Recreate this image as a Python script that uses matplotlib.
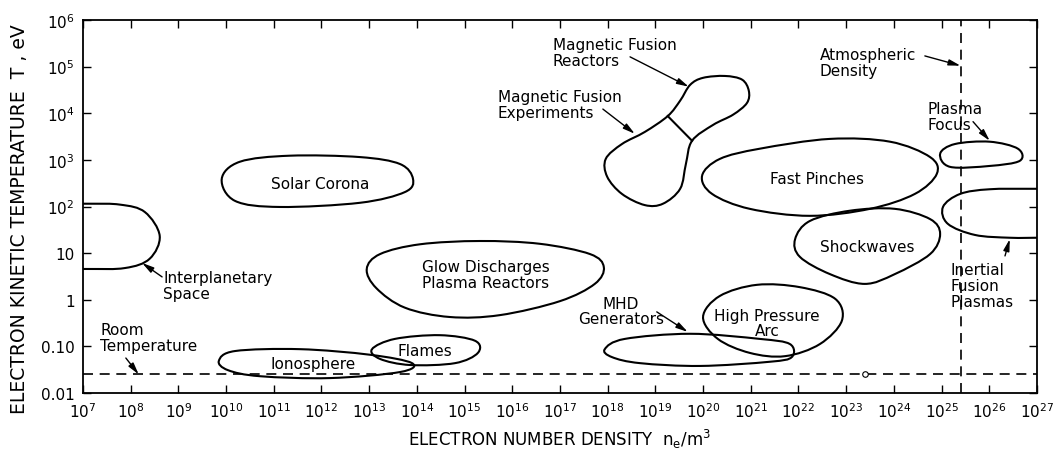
import numpy as np
import matplotlib.pyplot as plt
from matplotlib.path import Path
from matplotlib.patches import PathPatch

plt.rcParams['font.family'] = ['DejaVu Sans']
plt.rcParams['mathtext.default'] = 'regular'

# region outlines, points as (log10 n_e [m^-3], log10 T [eV])
interplanetary = [(5.0, 2.06), (7.0, 2.06), (7.78, 2.04), (8.30, 1.88), (8.61, 1.37),
                  (8.40, 0.88), (7.88, 0.68), (7.0, 0.66), (5.0, 0.66)]
solar_corona = [(9.91, 2.59), (10.29, 2.96), (11.34, 3.09), (12.81, 3.06), (13.65, 2.91),
                (13.92, 2.59), (13.75, 2.31), (12.81, 2.08), (11.13, 1.99), (10.19, 2.12)]
glow_discharge = [(12.95, 0.66), (13.23, 0.98), (14.07, 1.19), (15.32, 1.26), (16.58, 1.20),
                  (17.63, 0.98), (17.92, 0.70), (17.73, 0.34), (17.0, -0.03), (15.74, -0.33),
                  (14.69, -0.37), (13.75, -0.17), (13.15, 0.25)]
ionosphere = [(9.85, -1.31), (10.19, -1.10), (11.55, -1.06), (13.02, -1.18), (13.90, -1.36),
              (13.65, -1.55), (12.18, -1.68), (10.71, -1.64), (10.04, -1.51)]
flames = [(13.06, -1.06), (13.54, -0.84), (14.48, -0.76), (15.22, -0.88), (15.28, -1.14),
          (14.80, -1.36), (13.86, -1.40), (13.23, -1.27)]
magnetic_fusion = [(19.26, 3.94), (19.52, 4.27), (19.73, 4.61), (20.0, 4.76), (20.46, 4.80),
                   (20.82, 4.72), (20.96, 4.48), (20.92, 4.22), (20.63, 3.97), (20.21, 3.75),
                   (19.77, 3.41), (19.64, 2.91), (19.52, 2.38), (19.16, 2.06), (18.78, 2.03),
                   (18.30, 2.27), (17.99, 2.64), (17.96, 3.02), (18.30, 3.34), (18.78, 3.60)]
fusion_divider = [(19.26, 3.94), (19.77, 3.41)]
fast_pinches = [(19.98, 2.66), (20.35, 3.02), (21.19, 3.24), (22.66, 3.45), (23.92, 3.39),
                (24.76, 3.06), (24.90, 2.70), (24.44, 2.27), (23.50, 1.95), (22.24, 1.80),
                (20.98, 1.95), (20.19, 2.27)]
shockwaves = [(21.93, 1.30), (22.24, 1.69), (23.08, 1.91), (24.02, 1.95), (24.76, 1.73),
              (24.97, 1.41), (24.76, 0.98), (24.02, 0.55), (23.39, 0.34), (22.66, 0.55),
              (22.03, 0.92)]
plasma_focus = [(24.97, 3.13), (25.28, 3.34), (26.01, 3.39), (26.60, 3.24), (26.64, 2.98),
                (26.01, 2.87), (25.18, 2.85)]
inertial_fusion = [(29.0, 2.38), (27.0, 2.38), (26.01, 2.37), (25.39, 2.27), (25.03, 1.99),
                   (25.13, 1.63), (25.70, 1.39), (26.43, 1.33), (27.0, 1.33), (29.0, 1.33)]
hp_arc = [(20.0, -0.37), (20.31, -0.84), (20.98, -1.14), (21.72, -1.21), (22.45, -0.95),
          (22.91, -0.45), (22.77, 0.02), (22.03, 0.27), (21.13, 0.32), (20.35, 0.08)]
mhd = [(17.94, -1.06), (18.36, -0.84), (19.73, -0.73), (21.19, -0.84), (21.82, -0.95),
       (21.86, -1.23), (21.40, -1.33), (19.94, -1.42), (18.68, -1.36), (18.09, -1.23)]

room_temp = 0.025          # eV
atm_density = 2.5e25       # m^-3
marker_pt = (2.5e23, 0.025)

xticks = [10.0**k for k in range(7, 28)]
xticklabels = ['$10^{%d}$' % k for k in range(7, 28)]
yticks = [1e-2, 1e-1, 1, 10, 1e2, 1e3, 1e4, 1e5, 1e6]
yticklabels = ['0.01', '0.10', '1', '10', '$10^{2}$', '$10^{3}$', '$10^{4}$', '$10^{5}$', '$10^{6}$']


def smooth_path(pts):
    # closed Catmull-Rom curve -> cubic Bezier segments in log space
    p = np.array(pts, dtype=float)
    n = len(p)
    verts = [p[0]]
    codes = [Path.MOVETO]
    for i in range(n):
        p0, p1, p2, p3 = p[i - 1], p[i], p[(i + 1) % n], p[(i + 2) % n]
        verts += [p1 + (p2 - p0) / 6, p2 - (p3 - p1) / 6, p2]
        codes += [Path.CURVE4] * 3
    return Path(10.0 ** np.array(verts), codes)


fig = plt.figure(figsize=(10.63, 4.6), dpi=100)
ax = fig.add_axes([0.078, 0.1435, 0.8975, 0.8108])
ax.set_xscale('log')
ax.set_yscale('log')
ax.set_xlim(1e7, 1e27)
ax.set_ylim(1e-2, 1e6)

for shape in [interplanetary, solar_corona, glow_discharge, ionosphere, flames, magnetic_fusion,
              fast_pinches, shockwaves, plasma_focus, inertial_fusion, hp_arc, mhd]:
    ax.add_patch(PathPatch(smooth_path(shape), fill=False, lw=1.5, ec='black'))
d = 10.0 ** np.array(fusion_divider)
ax.plot(d[:, 0], d[:, 1], color='black', lw=1.5)

ax.axhline(room_temp, color='black', lw=1.2, ls=(0, (6, 4)))
ax.axvline(atm_density, color='black', lw=1.2, ls=(0, (6, 4)))
ax.plot(*marker_pt, 'o', ms=4, mfc='white', mec='black', mew=0.8)

ax.set_xticks(xticks)
ax.set_xticklabels(xticklabels)
ax.set_yticks(yticks)
ax.set_yticklabels(yticklabels)
ax.minorticks_off()
ax.tick_params(which='both', direction='in', length=6, width=1, top=True, right=True,
               labelsize=11, pad=6)
for s in ax.spines.values():
    s.set_linewidth(1.3)

ax.set_xlabel('ELECTRON NUMBER DENSITY  $n_e/m^3$', fontsize=12, labelpad=5)
ax.set_ylabel('ELECTRON KINETIC TEMPERATURE  T , eV', fontsize=13.5)
ax.yaxis.set_label_coords(-0.057, 0.47)

# region labels
fs = 11
ax.text(10**11.97, 10**2.49, 'Solar Corona', ha='center', va='center', fontsize=fs)
ax.text(10**15.45, 10**0.55, 'Glow Discharges\nPlasma Reactors', ha='center', va='center',
        fontsize=fs, linespacing=1.1)
ax.text(10**11.82, 10**-1.36, 'Ionosphere', ha='center', va='center', fontsize=fs)
ax.text(10**14.17, 10**-1.08, 'Flames', ha='center', va='center', fontsize=fs)
ax.text(10**22.39, 10**2.59, 'Fast Pinches', ha='center', va='center', fontsize=fs)
ax.text(10**23.44, 10**1.15, 'Shockwaves', ha='center', va='center', fontsize=fs)
ax.text(10**21.34, 10**-0.50, 'High Pressure\nArc', ha='center', va='center', fontsize=fs,
        linespacing=1.0)

# annotated labels with arrows
arrow = dict(arrowstyle='-|>,head_length=0.7,head_width=0.18', color='black', lw=1,
             shrinkA=0, shrinkB=0)
ax.text(10**8.68, 10**0.30, 'Interplanetary\nSpace', ha='left', va='center', fontsize=fs,
        linespacing=1.1)
ax.annotate('', xy=(10**8.24, 10**0.79), xytext=(10**8.66, 10**0.49), arrowprops=arrow)
ax.text(10**7.36, 10**-0.81, 'Room\nTemperature', ha='left', va='center', fontsize=fs,
        linespacing=1.1)
ax.annotate('', xy=(10**8.17, room_temp), xytext=(10**7.9, 10**-1.25), arrowprops=arrow)
ax.text(10**18.28, 10**-0.24, 'MHD\nGenerators', ha='center', va='center', fontsize=fs,
        linespacing=1.0)
ax.annotate('', xy=(10**19.68, 10**-0.69), xytext=(10**19.03, 10**-0.26), arrowprops=arrow)
ax.text(10**16.85, 10**5.30, 'Magnetic Fusion\nReactors', ha='left', va='center', fontsize=fs,
        linespacing=1.1)
ax.annotate('', xy=(10**19.70, 10**4.57), xytext=(10**18.47, 10**5.21), arrowprops=arrow)
ax.text(10**15.70, 10**4.18, 'Magnetic Fusion\nExperiments', ha='left', va='center',
        fontsize=fs, linespacing=1.1)
ax.annotate('', xy=(10**18.57, 10**3.56), xytext=(10**17.90, 10**4.09), arrowprops=arrow)
ax.text(10**22.45, 10**5.09, 'Atmospheric\nDensity', ha='left', va='center', fontsize=fs,
        linespacing=1.1)
ax.annotate('', xy=(atm_density, 10**5.02), xytext=(10**24.65, 10**5.23), arrowprops=arrow)
ax.text(10**24.71, 10**3.93, 'Plasma\nFocus', ha='left', va='center', fontsize=fs,
        linespacing=1.1)
ax.annotate('', xy=(10**26.01, 10**3.41), xytext=(10**25.66, 10**3.82), arrowprops=arrow)
ax.text(10**25.18, 10**0.30, 'Inertial\nFusion\nPlasmas', ha='left', va='center', fontsize=fs,
        linespacing=1.1)
ax.annotate('', xy=(10**26.43, 10**1.30), xytext=(10**26.33, 10**0.94), arrowprops=arrow)

fig.savefig('out.png', dpi=100)
